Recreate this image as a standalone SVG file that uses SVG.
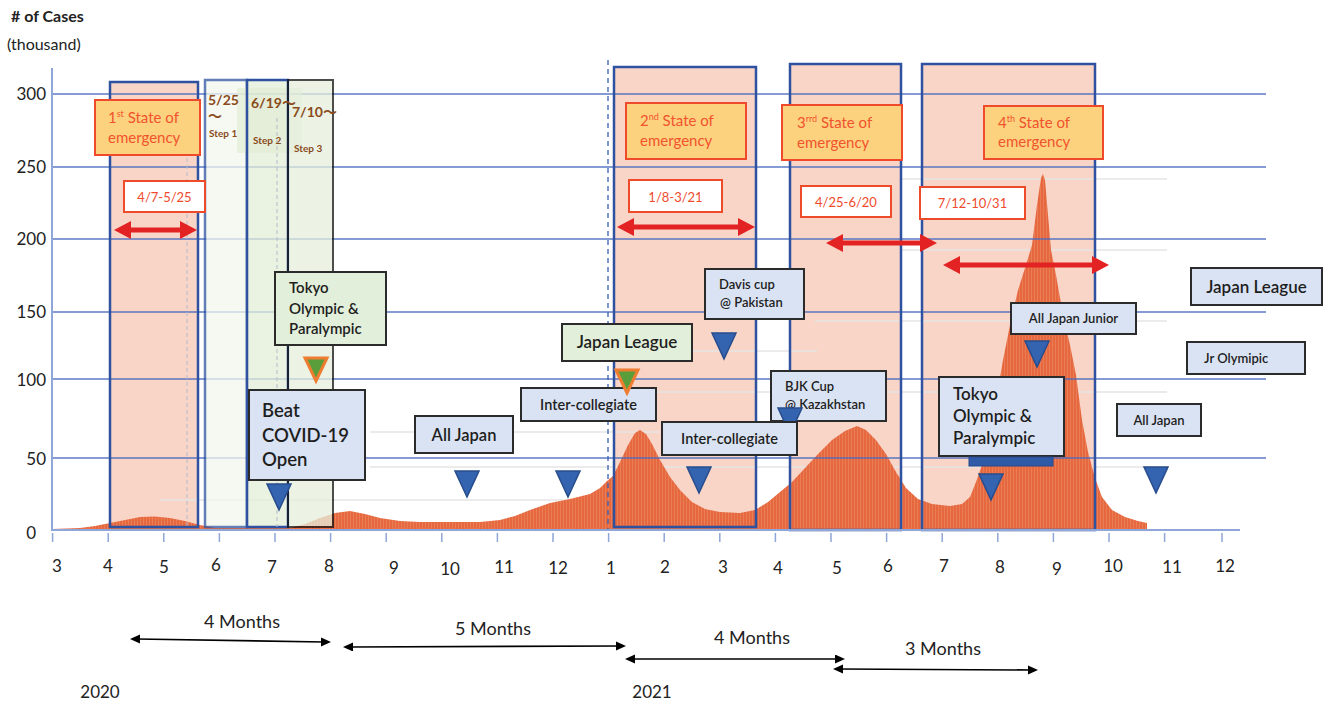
<svg xmlns="http://www.w3.org/2000/svg" width="1328" height="701" viewBox="0 0 1328 701">
<defs>
<style>
text{font-family:Lato,"Noto Sans","Noto Sans CJK JP",sans-serif;}
.grid{stroke:#4a6cc0;stroke-width:1.3;opacity:0.9;}
.faint{stroke:#e4e4e4;stroke-width:1.5;}
.soe{fill:#f9d5c8;}
.soeb{fill:none;stroke:#2f52a0;stroke-width:2.5;}
.lbl{fill:#fdd27f;stroke:#ef4a2c;stroke-width:2;}
.lblt{fill:#f0532d;font-size:15px;}
.date{fill:#fff;stroke:#ee4b2b;stroke-width:2;}
.datet{fill:#ef4a2c;font-size:13px;text-anchor:middle;}
.red{stroke:#e32323;stroke-width:5;fill:none;marker-start:url(#rh);marker-end:url(#rh);}
.ev{fill:#dae3f3;stroke:#2b2b2b;stroke-width:2;}
.evg{fill:#e2efda;stroke:#2b2b2b;stroke-width:2;}
.evt{fill:#1e1e1e;font-weight:600;}
.ax{fill:#222;font-size:17px;}
.yl{fill:#222;font-size:17px;text-anchor:end;}
.step{fill:#8a4a1a;font-weight:700;}
.blk{stroke:#000;stroke-width:1.6;fill:none;marker-start:url(#bh);marker-end:url(#bh);}
.tick{stroke:#8ea6d8;stroke-width:1.5;}
.mo{fill:#222;font-size:18px;text-anchor:middle;}
</style>
<marker id="rh" markerUnits="userSpaceOnUse" markerWidth="18" markerHeight="18" refX="8" refY="9" orient="auto-start-reverse" viewBox="0 0 18 18"><path d="M0,0 L17,9 L0,18 Z" fill="#e32323"/></marker>
<marker id="bh" markerUnits="userSpaceOnUse" markerWidth="11" markerHeight="10" refX="3" refY="4.5" orient="auto-start-reverse" viewBox="0 0 11 10"><path d="M0,0 L10,4.5 L0,9 Z" fill="#000"/></marker>
<pattern id="bars" patternUnits="userSpaceOnUse" width="3" height="10"><rect width="3" height="10" fill="#e5683f"/><rect x="2" width="1" height="10" fill="#ef8d69" opacity="0.55"/></pattern>
<path id="tri" d="M-12,0 L12,0 L0,26 Z" fill="#3463b0" stroke="#284d8c" stroke-width="1.5"/>
<path id="gtri" d="M-11,1 L11,1 L0,24 Z" fill="#5a9e3c" stroke="#ee7d31" stroke-width="3"/>
</defs>
<rect width="1328" height="701" fill="#fff"/>

<g id="soe-fills">
<rect class="soe" x="110" y="82" width="88" height="445"/>
<rect class="soe" x="614" y="67" width="142" height="460"/>
<rect class="soe" x="790" y="64" width="111" height="466"/>
<rect class="soe" x="922" y="64" width="173" height="466"/>
</g>

<g id="faint-lines">
<line class="faint" x1="900" y1="179" x2="1167" y2="179"/>
<line class="faint" x1="900" y1="250" x2="1167" y2="250"/>
<line class="faint" x1="815" y1="321" x2="1167" y2="321"/>
<line class="faint" x1="650" y1="351" x2="817" y2="351"/>
<line class="faint" x1="650" y1="392" x2="1167" y2="392"/>
<line class="faint" x1="370" y1="432" x2="660" y2="432"/>
<line class="faint" x1="370" y1="467" x2="1167" y2="467"/>
<line class="faint" x1="160" y1="500" x2="600" y2="500"/>
</g>

<g id="cases-curve">
<path fill="url(#bars)" d="M52,529 L80,528 L95,526 L110,523 L125,520 L140,517 L155,516.5 L170,518 L185,521 L200,525 L215,528 L290,528 L305,524 L320,518 L335,513 L350,511 L365,514 L380,518 L400,521 L420,522 L480,522 L500,520 L515,516 L530,510 L550,503 L570,499 L590,494 L600,488 L607,481 L613,476 L620,462 L628,445 L635,433 L640,430 L646,434 L652,444 L660,460 L670,477 L680,490 L692,502 L705,509 L720,512 L740,513 L755,510 L768,502 L780,492 L792,482 L805,468 L818,454 L832,440 L845,431 L857,426 L866,430 L876,440 L886,454 L896,472 L906,488 L918,499 L932,504 L950,506 L962,504 L970,497 L976,482 L983,462 L990,438 L997,395 L1003,360 L1010,325 L1018,290 L1026,265 L1032,245 L1037,205 L1041,178 L1043,174 L1045,180 L1048,215 L1051,250 L1056,275 L1063,315 L1070,345 L1076,375 L1082,420 L1088,452 L1095,478 L1102,497 L1112,510 L1125,517 L1138,521 L1147,523 L1147,529 Z"/>
</g>

<g id="gridlines">
<line class="grid" x1="52" y1="94" x2="1266" y2="94"/>
<line class="grid" x1="52" y1="167" x2="1266" y2="167"/>
<line class="grid" x1="52" y1="239" x2="1266" y2="239"/>
<line class="grid" x1="52" y1="312" x2="1266" y2="312"/>
<line class="grid" x1="52" y1="379" x2="1266" y2="379"/>
<line class="grid" x1="52" y1="458" x2="1266" y2="458"/>
</g>

<g id="steps">
<rect x="205" y="80" width="42" height="447" fill="#f3f8ed" opacity="0.75" stroke="#2f52a0" stroke-width="2.5"/>
<rect x="247" y="80" width="41" height="447" fill="#e3eed8" opacity="0.75"/>
<rect x="237" y="88" width="65" height="65" fill="#dfebd2" opacity="0.6"/>
<rect x="247" y="80" width="41" height="447" fill="none" stroke="#2f52a0" stroke-width="2.5"/>
<rect x="288" y="80" width="45" height="447" fill="#e6f0dd" opacity="0.75" stroke="#111" stroke-width="2"/>
<text class="step" x="208" y="105" font-size="14">5/25</text>
<text class="step" x="208" y="121" font-size="14">〜</text>
<text class="step" x="209" y="137" font-size="10">Step 1</text>
<text class="step" x="251" y="108" font-size="14">6/19〜</text>
<text class="step" x="253" y="144" font-size="10">Step 2</text>
<text class="step" x="292" y="117" font-size="14">7/10〜</text>
<text class="step" x="294" y="152" font-size="10">Step 3</text>
</g>

<g id="dashed-lines">
<line x1="187" y1="158" x2="187" y2="527" stroke="#b4bccb" stroke-width="1" stroke-dasharray="4,3"/>
<line x1="277" y1="118" x2="277" y2="527" stroke="#b4bccb" stroke-width="1" stroke-dasharray="4,3"/>
<line x1="608" y1="60" x2="608" y2="530" stroke="#3a5fb0" stroke-width="1.3" stroke-dasharray="5,4"/>
</g>

<g id="soe-borders">
<rect class="soeb" x="110" y="82" width="88" height="445"/>
<rect class="soeb" x="614" y="67" width="142" height="460"/>
<rect class="soeb" x="790" y="64" width="111" height="466"/>
<rect class="soeb" x="922" y="64" width="173" height="466"/>
</g>

<g id="axes">
<line x1="52" y1="68" x2="52" y2="531" stroke="#8ea6d8" stroke-width="2"/>
<line x1="52" y1="530" x2="1240" y2="530" stroke="#8ea6d8" stroke-width="2"/>
<g>
<line class="tick" x1="52.6" y1="533" x2="52.6" y2="542"/>
<line class="tick" x1="108.2" y1="533" x2="108.2" y2="542"/>
<line class="tick" x1="163.8" y1="533" x2="163.8" y2="542"/>
<line class="tick" x1="219.4" y1="533" x2="219.4" y2="542"/>
<line class="tick" x1="275" y1="533" x2="275" y2="542"/>
<line class="tick" x1="330.6" y1="533" x2="330.6" y2="542"/>
<line class="tick" x1="386.2" y1="533" x2="386.2" y2="542"/>
<line class="tick" x1="441.8" y1="533" x2="441.8" y2="542"/>
<line class="tick" x1="497.4" y1="533" x2="497.4" y2="542"/>
<line class="tick" x1="553" y1="533" x2="553" y2="542"/>
<line class="tick" x1="608.6" y1="533" x2="608.6" y2="542"/>
<line class="tick" x1="664.2" y1="533" x2="664.2" y2="542"/>
<line class="tick" x1="719.8" y1="533" x2="719.8" y2="542"/>
<line class="tick" x1="775.4" y1="533" x2="775.4" y2="542"/>
<line class="tick" x1="831" y1="533" x2="831" y2="542"/>
<line class="tick" x1="886.6" y1="533" x2="886.6" y2="542"/>
<line class="tick" x1="942.2" y1="533" x2="942.2" y2="542"/>
<line class="tick" x1="997.8" y1="533" x2="997.8" y2="542"/>
<line class="tick" x1="1053.4" y1="533" x2="1053.4" y2="542"/>
<line class="tick" x1="1109" y1="533" x2="1109" y2="542"/>
<line class="tick" x1="1164.6" y1="533" x2="1164.6" y2="542"/>
<line class="tick" x1="1222" y1="533" x2="1222" y2="542"/>
</g>
<text x="11" y="22" font-size="16" font-weight="700" fill="#222">#&#160;of Cases</text>
<text x="7" y="50" font-size="16" fill="#222">(thousand)</text>
<text class="yl" x="46" y="100">300</text>
<text class="yl" x="46" y="173">250</text>
<text class="yl" x="46" y="245">200</text>
<text class="yl" x="46" y="318">150</text>
<text class="yl" x="46" y="386">100</text>
<text class="yl" x="46" y="465">50</text>
<text class="yl" x="36" y="539">0</text>
<g text-anchor="middle">
<text class="ax" x="57" y="572">3</text>
<text class="ax" x="108" y="572">4</text>
<text class="ax" x="164" y="573">5</text>
<text class="ax" x="216" y="571">6</text>
<text class="ax" x="272" y="573">7</text>
<text class="ax" x="329" y="572">8</text>
<text class="ax" x="394" y="574">9</text>
<text class="ax" x="450" y="575">10</text>
<text class="ax" x="504" y="573">11</text>
<text class="ax" x="558" y="574">12</text>
<text class="ax" x="611" y="574">1</text>
<text class="ax" x="665" y="573">2</text>
<text class="ax" x="723" y="573">3</text>
<text class="ax" x="778" y="574">4</text>
<text class="ax" x="837" y="574">5</text>
<text class="ax" x="888" y="572">6</text>
<text class="ax" x="944" y="572">7</text>
<text class="ax" x="1000" y="573">8</text>
<text class="ax" x="1057" y="575">9</text>
<text class="ax" x="1113" y="572">10</text>
<text class="ax" x="1172" y="573">11</text>
<text class="ax" x="1225" y="572">12</text>
</g>
</g>

<g id="soe1-label">
<rect class="lbl" x="95" y="100" width="105" height="55"/>
<text class="lblt" x="108" y="123">1<tspan font-size="9" dy="-6">st</tspan><tspan dy="6"> State of</tspan></text>
<text class="lblt" x="108" y="143">emergency</text>
</g>
<g id="soe1-date">
<rect class="date" x="124" y="181" width="81" height="31"/>
<text class="datet" x="164.5" y="202">4/7-5/25</text>
</g>
<g id="soe2-label">
<rect class="lbl" x="626" y="103" width="120" height="56"/>
<text class="lblt" x="640" y="126">2<tspan font-size="9" dy="-6">nd</tspan><tspan dy="6"> State of</tspan></text>
<text class="lblt" x="640" y="146">emergency</text>
</g>
<g id="soe2-date">
<rect class="date" x="629" y="180" width="93" height="32"/>
<text class="datet" x="675.5" y="202">1/8-3/21</text>
</g>
<g id="soe3-label">
<rect class="lbl" x="782" y="105" width="120" height="55"/>
<text class="lblt" x="797" y="128">3<tspan font-size="9" dy="-6">rrd</tspan><tspan dy="6"> State of</tspan></text>
<text class="lblt" x="797" y="148">emergency</text>
</g>
<g id="soe3-date">
<rect class="date" x="801" y="186" width="90" height="31"/>
<text class="datet" x="846" y="207">4/25-6/20</text>
</g>
<g id="soe4-label">
<rect class="lbl" x="984" y="106" width="119" height="53"/>
<text class="lblt" x="998" y="128">4<tspan font-size="9" dy="-6">th</tspan><tspan dy="6"> State of</tspan></text>
<text class="lblt" x="998" y="147">emergency</text>
</g>
<g id="soe4-date">
<rect class="date" x="920" y="187" width="105" height="32"/>
<text class="datet" x="972.5" y="208">7/12-10/31</text>
</g>

<g id="tokyo-2020">
<rect class="evg" x="275" y="272" width="111" height="73"/>
<text class="evt" x="289" y="293" font-size="15">Tokyo</text>
<text class="evt" x="289" y="314" font-size="15">Olympic &amp;</text>
<text class="evt" x="289" y="334" font-size="15">Paralympic</text>
<use href="#gtri" x="316" y="357"/>
</g>
<g id="beat-covid">
<rect class="ev" x="249" y="390" width="116" height="90"/>
<text class="evt" x="262" y="417" font-size="18.5">Beat</text>
<text class="evt" x="262" y="442" font-size="18.5">COVID-19</text>
<text class="evt" x="262" y="466" font-size="18.5">Open</text>
<use href="#tri" x="279" y="484"/>
</g>
<g id="all-japan-2020">
<rect class="ev" x="415" y="416" width="98" height="37"/>
<text class="evt" x="464" y="441" font-size="16.5" text-anchor="middle">All Japan</text>
<use href="#tri" x="467" y="471"/>
</g>
<g id="intercollegiate-2020">
<rect class="ev" x="521" y="388" width="135" height="33"/>
<text class="evt" x="588.5" y="410" font-size="14.5" text-anchor="middle">Inter-collegiate</text>
<use href="#tri" x="568" y="471"/>
</g>
<g id="japan-league-2021">
<rect class="evg" x="562" y="324" width="130" height="37"/>
<text class="evt" x="627" y="348" font-size="17" text-anchor="middle">Japan League</text>
<use href="#gtri" x="627" y="369"/>
</g>
<g id="davis-cup">
<rect class="ev" x="705" y="269" width="99" height="50"/>
<text class="evt" x="719" y="289" font-size="13">Davis cup</text>
<text class="evt" x="720" y="307" font-size="13">@ Pakistan</text>
<use href="#tri" x="724" y="333"/>
</g>
<g id="bjk-cup">
<rect class="ev" x="771" y="371" width="115" height="50"/>
<text class="evt" x="785" y="391" font-size="13">BJK Cup</text>
<text class="evt" x="785" y="409" font-size="13">@ Kazakhstan</text>
<use href="#tri" x="790" y="408"/>
</g>
<g id="intercollegiate-2021">
<rect class="ev" x="662" y="422" width="135" height="33"/>
<text class="evt" x="729.5" y="444" font-size="14.5" text-anchor="middle">Inter-collegiate</text>
<use href="#tri" x="699" y="467"/>
</g>
<g id="tokyo-2021">
<rect class="ev" x="939" y="377" width="125" height="79"/>
<text class="evt" x="953" y="400" font-size="17">Tokyo</text>
<text class="evt" x="953" y="422" font-size="17">Olympic &amp;</text>
<text class="evt" x="953" y="444" font-size="17">Paralympic</text>
<rect x="969" y="457" width="84" height="9" fill="#2f5aa8" stroke="#26488a" stroke-width="1"/>
<use href="#tri" x="991" y="474"/>
</g>
<g id="all-japan-junior">
<rect class="ev" x="1011" y="303" width="125" height="31"/>
<text class="evt" x="1073.5" y="323" font-size="13" text-anchor="middle">All Japan Junior</text>
<use href="#tri" x="1037" y="341"/>
</g>
<g id="japan-league-right">
<rect class="ev" x="1191" y="268" width="131" height="37"/>
<text class="evt" x="1256.5" y="293" font-size="17" text-anchor="middle">Japan League</text>
</g>
<g id="jr-olympic">
<rect class="ev" x="1187" y="342" width="118" height="32"/>
<text class="evt" x="1204" y="363" font-size="13">Jr Olymipic</text>
</g>
<g id="all-japan-2021">
<rect class="ev" x="1117" y="404" width="84" height="32"/>
<text class="evt" x="1159" y="425" font-size="13" text-anchor="middle">All Japan</text>
<use href="#tri" x="1156" y="467"/>
</g>

<g id="connectors">
<line class="red" x1="123" y1="230" x2="188" y2="230"/>
<line class="red" x1="626" y1="227" x2="746" y2="227"/>
<line class="red" x1="835" y1="243" x2="928" y2="243"/>
<line class="red" x1="952" y1="265" x2="1100" y2="265"/>
<line class="blk" x1="137" y1="639" x2="324" y2="642"/>
<line class="blk" x1="350" y1="647" x2="619" y2="646"/>
<line class="blk" x1="632" y1="659" x2="838" y2="659"/>
<line class="blk" x1="840" y1="669" x2="1031" y2="670"/>
</g>

<g id="period-labels">
<text class="mo" x="242" y="628">4 Months</text>
<text class="mo" x="493" y="635">5 Months</text>
<text class="mo" x="752" y="644">4 Months</text>
<text class="mo" x="943" y="655">3 Months</text>
<text x="100" y="698" font-size="17" fill="#222" text-anchor="middle">2020</text>
<text x="652" y="698" font-size="17" fill="#222" text-anchor="middle">2021</text>
</g>
</svg>
